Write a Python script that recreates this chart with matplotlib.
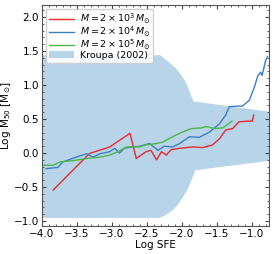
import matplotlib
matplotlib.use("Agg")
import matplotlib.pyplot as plt
from matplotlib.ticker import MultipleLocator

# Kroupa (2002) band boundaries
band_x = [-4.0, -2.317, -2.245, -2.174, -2.10, -2.056, -2.007, -1.96, -1.936, -1.889, -1.842, -1.817, -1.817, -0.75]
band_hi = [1.448, 1.448, 1.389, 1.33, 1.266, 1.21, 1.144, 1.07, 1.022, 0.899, 0.777, 0.743, 0.765, 0.615]
band_lo = [-0.946, -0.946, -0.91, -0.863, -0.80, -0.740, -0.67, -0.593, -0.55, -0.446, -0.325, -0.261, -0.247, -0.105]

# M = 2e3
red_x = [-3.84, -3.32, -3.03, -2.90, -2.74, -2.65, -2.51, -2.44, -2.36, -2.29, -2.22, -2.15, -2.03, -1.84, -1.70, -1.56, -1.46, -1.37, -1.27, -1.18, -1.03, -0.99, -0.97]
red_y = [-0.545, -0.007, 0.09, 0.18, 0.29, -0.08, 0.02, 0.04, -0.10, 0.02, -0.03, 0.05, 0.07, 0.09, 0.08, 0.12, 0.21, 0.34, 0.36, 0.46, 0.47, 0.47, 0.56]

# M = 2e4
blue_x = [-3.94, -3.77, -3.70, -3.51, -3.36, -3.27, -3.17, -3.03, -2.96, -2.89, -2.82, -2.70, -2.60, -2.46, -2.34, -2.25, -2.13, -2.03, -1.89, -1.75, -1.60, -1.46, -1.37, -1.32, -1.22, -1.13, -1.03, -0.96, -0.91, -0.87, -0.85, -0.82, -0.80, -0.77]
blue_y = [-0.23, -0.21, -0.13, -0.06, -0.01, -0.06, -0.01, 0.02, 0.07, 0.00, 0.07, 0.09, 0.10, 0.14, 0.04, 0.10, 0.09, 0.14, 0.24, 0.23, 0.31, 0.43, 0.56, 0.68, 0.69, 0.69, 0.78, 0.97, 1.14, 1.19, 1.14, 1.27, 1.36, 1.42]

# M = 2e5
green_x = [-3.98, -3.84, -3.74, -3.55, -3.36, -3.17, -3.03, -2.91, -2.79, -2.60, -2.51, -2.36, -2.27, -2.13, -2.01, -1.86, -1.72, -1.65, -1.53, -1.41, -1.28]
green_y = [-0.18, -0.18, -0.13, -0.11, -0.08, -0.06, -0.03, 0.02, 0.09, 0.09, 0.12, 0.14, 0.16, 0.24, 0.30, 0.36, 0.37, 0.39, 0.36, 0.37, 0.47]

fig = plt.figure(figsize=(2.74, 2.54), dpi=100)
ax = fig.add_axes([0.153, 0.111, 0.829, 0.870])

ax.fill_between(band_x, band_lo, band_hi, color='#b8d4e8', lw=0, label='Kroupa (2002)')
ax.plot(red_x, red_y, color='#e8292e', lw=1.0, label=r'$M = 2\times10^3\,M_{\odot}$')
ax.plot(blue_x, blue_y, color='#3c7fc4', lw=1.0, label=r'$M = 2\times10^4\,M_{\odot}$')
ax.plot(green_x, green_y, color='#4db848', lw=1.0, label=r'$M = 2\times10^5\,M_{\odot}$')

ax.set_xlim(-4.0, -0.75)
ax.set_ylim(-1.07, 2.18)
ax.xaxis.set_major_locator(MultipleLocator(0.5))
ax.xaxis.set_minor_locator(MultipleLocator(0.1))
ax.yaxis.set_major_locator(MultipleLocator(0.5))
ax.yaxis.set_minor_locator(MultipleLocator(0.1))
ax.tick_params(which='both', direction='in', top=True, right=True, labelsize=7.5, color='#444444')
ax.tick_params(which='major', length=3, pad=2)
ax.tick_params(which='minor', length=1.5)
for s in ax.spines.values():
    s.set_color('#555555')
    s.set_linewidth(0.8)

ax.set_xlabel('Log SFE', fontsize=7.5, labelpad=1)
ax.set_ylabel(r'Log M$_{50}$ [M$_{\odot}$]', fontsize=7.5, labelpad=1)

h, l = ax.get_legend_handles_labels()
order = [1, 2, 3, 0]
ax.legend([h[i] for i in order], [l[i] for i in order], loc='upper left', fontsize=6.8,
          handlelength=2.7, borderpad=0.3, labelspacing=-0.1, handletextpad=0.6,
          borderaxespad=0.4, fancybox=True, framealpha=0.9)

fig.savefig('out.png', dpi=100)
